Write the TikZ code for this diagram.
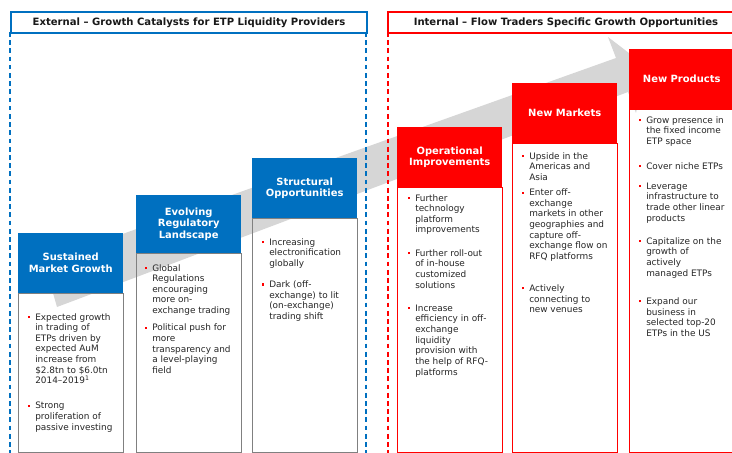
\documentclass[tikz,border=0pt]{standalone}
\usepackage{fontspec}
\setmainfont{DejaVu Sans}
\usetikzlibrary{positioning}

\definecolor{ftblue}{RGB}{0,112,192}
\definecolor{ftred}{RGB}{255,0,0}
\definecolor{ftgray}{RGB}{214,214,214}

% viñeta roja y sangria
\newcommand{\bul}{\makebox[6pt][l]{\color{ftred}\rule[1.7pt]{1.8pt}{1.8pt}}}
\newcommand{\ind}{\hspace*{6pt}}

\tikzset{
  panelhead/.style={draw=#1, line width=1.6pt, fill=white, minimum width=10.68cm, minimum height=0.63cm,
    inner sep=0pt, anchor=north west, text=black!90, font=\fontsize{8.6}{10}\selectfont\bfseries},
  panelline/.style={draw=#1, line width=1pt, dash pattern=on 4pt off 3pt},
  boxhead/.style={fill=#1, minimum width=3.15cm, minimum height=1.8cm, inner sep=0pt, align=center,
    anchor=north west, text=white, font=\fontsize{8.5}{10.2}\selectfont\bfseries},
  boxbody/.style={draw=#1, line width=0.8pt},
  bodytext/.style={anchor=north west, align=left, inner sep=0pt, text=black!85,
    font=\fontsize{7.6}{9.1}\selectfont},
}

\begin{document}
\begin{tikzpicture}[x=0.03cm, y=-0.03cm]
    \useasboundingbox (0,0) rectangle (732,453);
    \clip (0,0) rectangle (732,453);
    \coordinate (bot) at (0,452);

    % Flecha gris de fondo
    \fill[ftgray] (44,262) -- (616,58) -- (608,37) -- (646,66) -- (636,113) -- (628,92) -- (57,307) -- cycle;

    % Paneles externo e interno
    \draw[panelline=ftblue] (10,32) -- (10,460);
    \draw[panelline=ftblue] (366,32) -- (366,460);
    \draw[panelline=ftred] (388,32) -- (388,460);
    \node[panelhead=ftblue] (ph1) at (10,11) {External -- Growth Catalysts for ETP Liquidity Providers};
    \node[panelhead=ftred] (ph2) at (387,11) {Internal -- Flow Traders Specific Growth Opportunities};

    % Cabeceras de las cajas
    \node[boxhead=ftblue] (h1) at (18,233) {Sustained\\Market Growth};
    \node[boxhead=ftblue, minimum height=1.74cm] (h2) at (136,195) {Evolving\\Regulatory\\Landscape};
    \node[boxhead=ftblue] (h3) at (252,158) {Structural\\Opportunities};
    \node[boxhead=ftred] (h4) at (397,127) {Operational\\Improvements};
    \node[boxhead=ftred] (h5) at (512,83) {New Markets};
    \node[boxhead=ftred] (h6) at (629,49) {New Products};

    % Cuerpos
    \foreach \h/\c in {h1/gray,h2/gray,h3/gray,h4/ftred,h5/ftred,h6/ftred}
        \draw[boxbody=\c] (\h.south west) rectangle (\h.south east |- bot);

    % Textos
    \node[bodytext] (t1) at (28,313) {\bul Expected growth\\\ind in trading of\\\ind ETPs driven by\\\ind expected AuM\\\ind increase from\\\ind \$2.8tn to \$6.0tn\\\ind 2014--2019\textsuperscript{1}\\[12pt]
        \bul Strong\\\ind proliferation of\\\ind passive investing};
    \node[bodytext] (t2) at (145,264) {\bul Global\\\ind Regulations\\\ind encouraging\\\ind more on-\\\ind exchange trading\\[5.5pt]
        \bul Political push for\\\ind more\\\ind transparency and\\\ind a level-playing\\\ind field};
    \node[bodytext] (t3) at (262,238) {\bul Increasing\\\ind electronification\\\ind globally\\[9pt]
        \bul Dark (off-\\\ind exchange) to lit\\\ind (on-exchange)\\\ind trading shift};
    \node[bodytext] (t4) at (408,194) {\bul Further\\\ind technology\\\ind platform\\\ind improvements\\[10.6pt]
        \bul Further roll-out\\\ind of in-house\\\ind customized\\\ind solutions\\[10.6pt]
        \bul Increase\\\ind efficiency in off-\\\ind exchange\\\ind liquidity\\\ind provision with\\\ind the help of RFQ-\\\ind platforms};
    \node[bodytext] (t5) at (522,152) {\bul Upside in the\\\ind Americas and\\\ind Asia\\[4pt]
        \bul Enter off-\\\ind exchange\\\ind markets in other\\\ind geographies and\\\ind capture off-\\\ind exchange flow on\\\ind RFQ platforms\\[18pt]
        \bul Actively\\\ind connecting to\\\ind new venues};
    \node[bodytext] (t6) at (639,116) {\bul Grow presence in\\\ind the fixed income\\\ind ETP space\\[12pt]
        \bul Cover niche ETPs\\[8pt]
        \bul Leverage\\\ind infrastructure to\\\ind trade other linear\\\ind products\\[10.6pt]
        \bul Capitalize on the\\\ind growth of\\\ind actively\\\ind managed ETPs\\[15pt]
        \bul Expand our\\\ind business in\\\ind selected top-20\\\ind ETPs in the US};
\end{tikzpicture}
\end{document}
